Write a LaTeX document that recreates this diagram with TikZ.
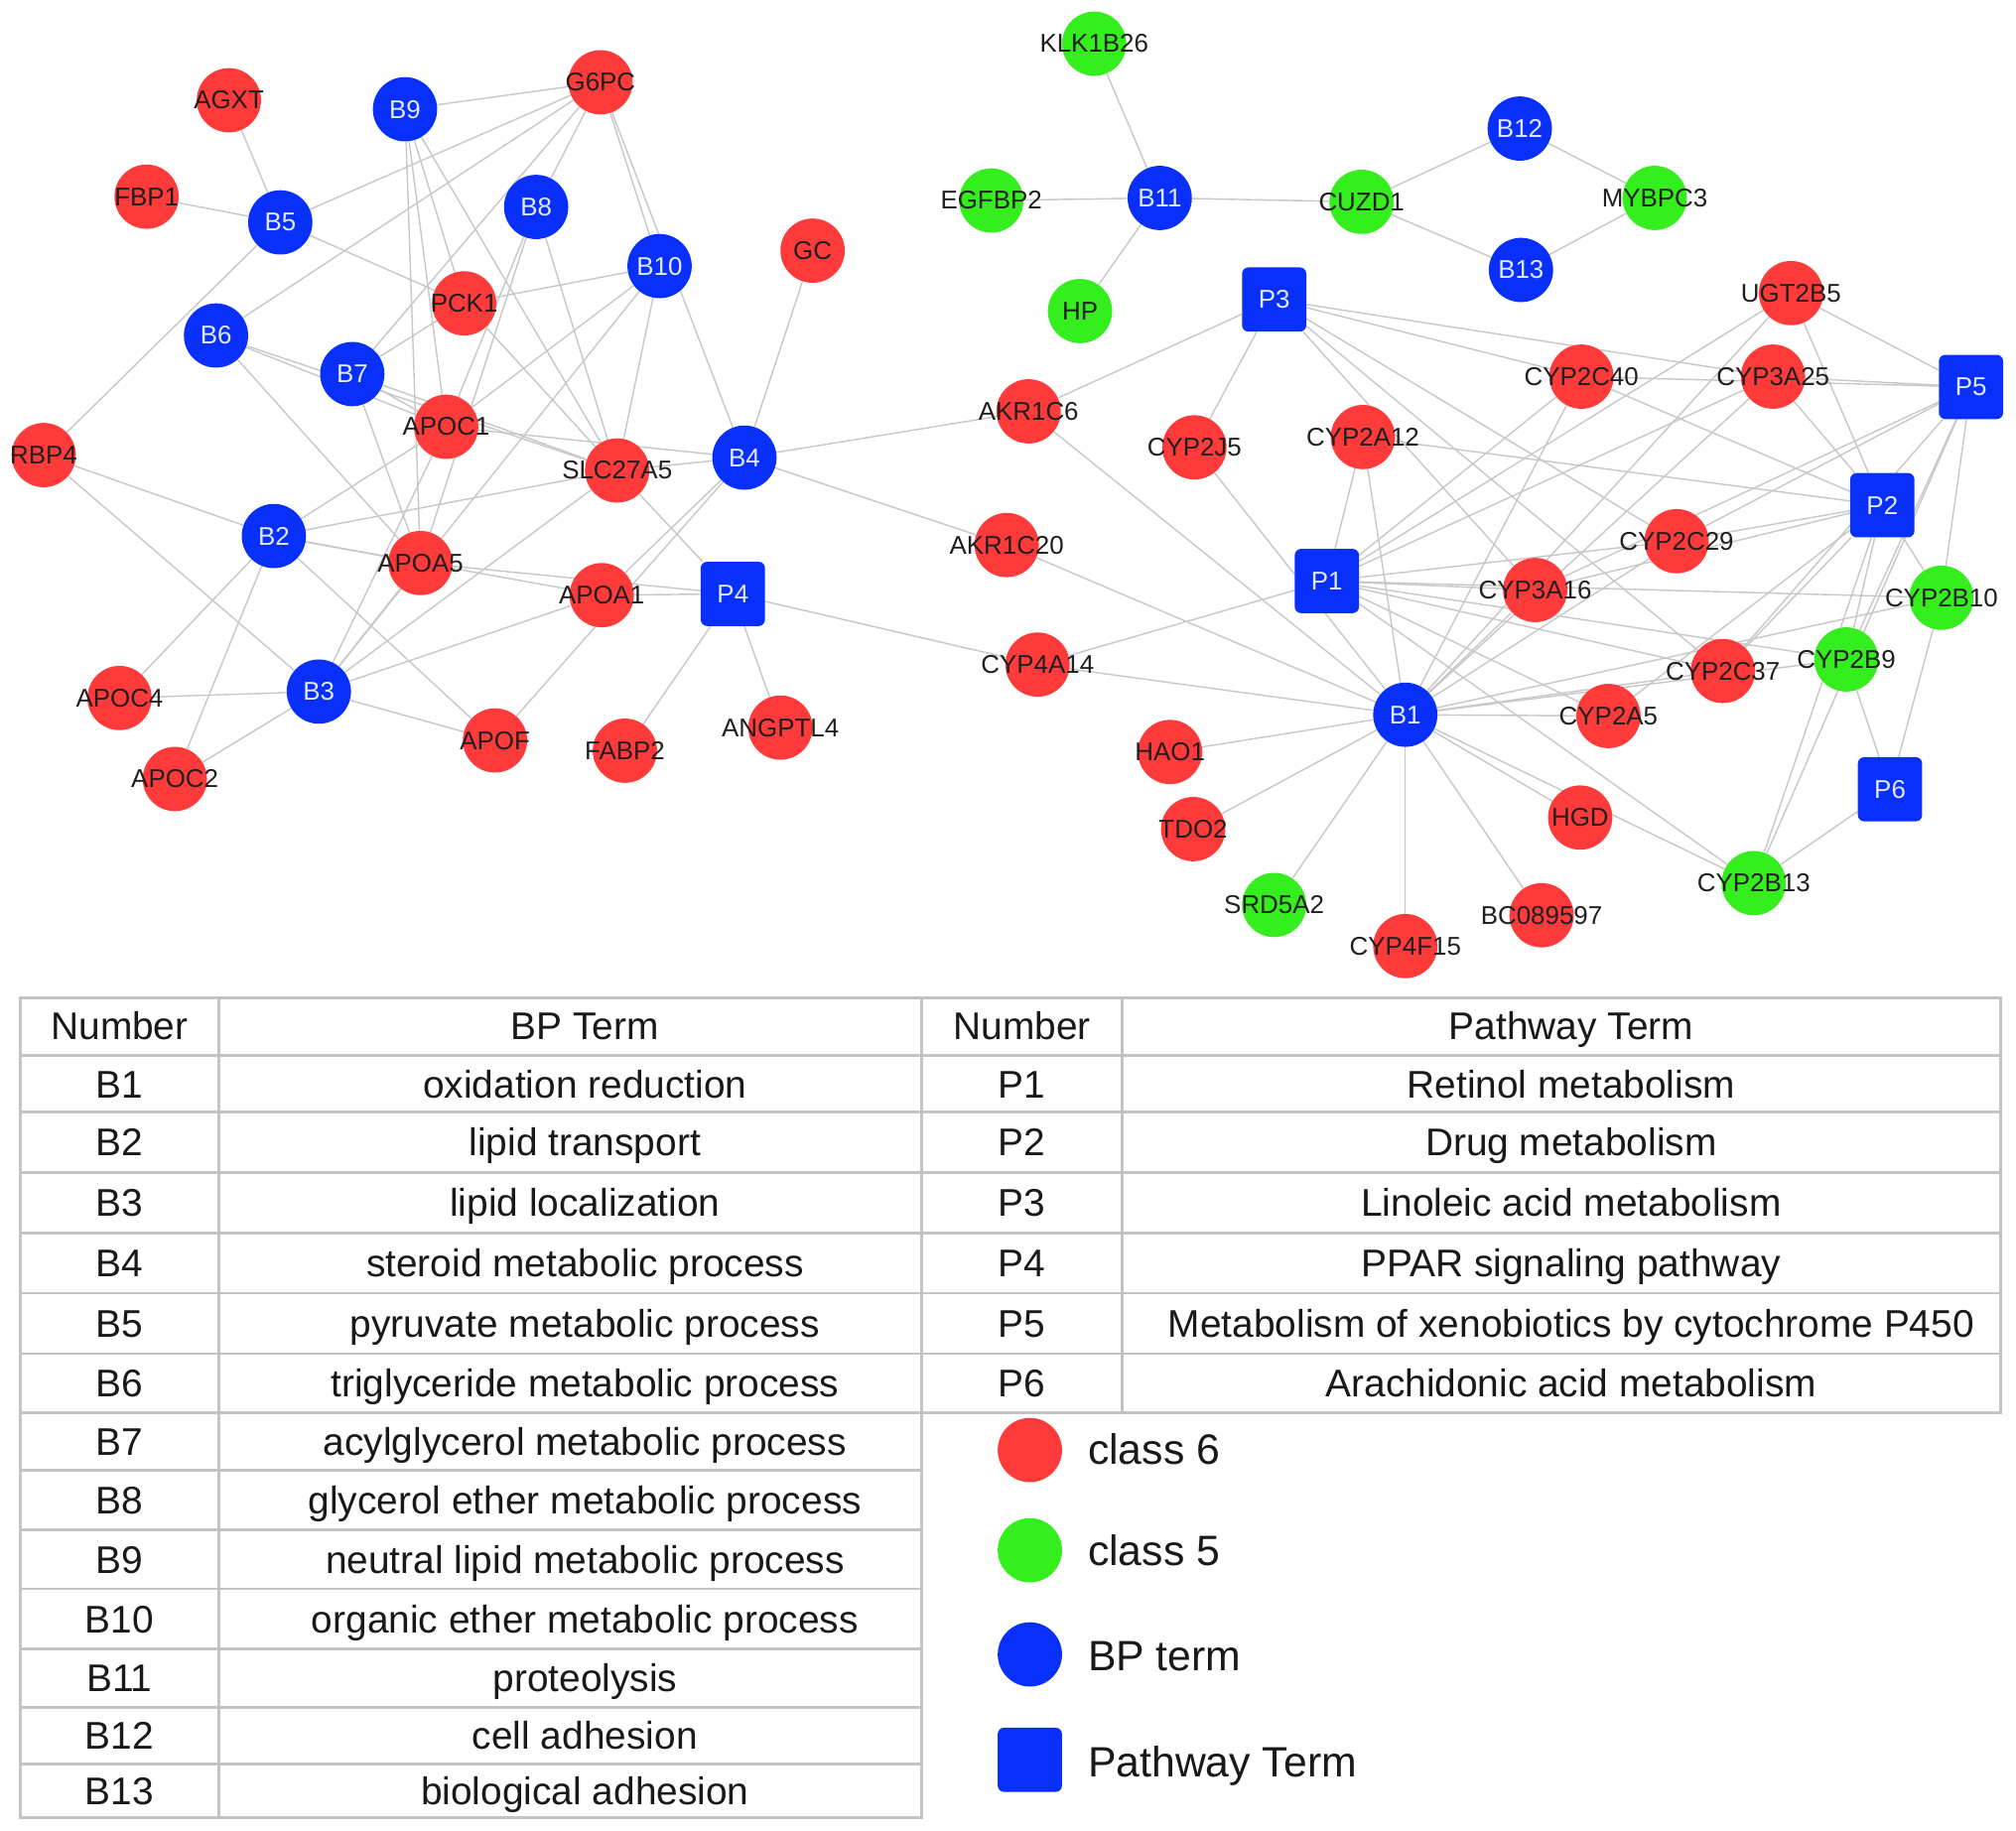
\documentclass[tikz,border=0pt]{standalone}
\usepackage{fontspec}
\setmainfont{Liberation Sans}
\pgfdeclarelayer{bgfill}
\pgfdeclarelayer{edges}
\pgfsetlayers{bgfill,edges,main}
\definecolor{cRed}{RGB}{255,58,58}
\definecolor{cGreen}{RGB}{52,238,30}
\definecolor{cBlue}{RGB}{8,48,250}
\definecolor{cLight}{RGB}{225,232,255}
\definecolor{edgegray}{RGB}{200,200,200}
\definecolor{tabgray}{RGB}{195,195,195}
\newcommand\lblfont{\fontsize{20}{24}\selectfont}
\newcommand\tabfont{\fontsize{30}{36}\selectfont}
\newcommand\legfont{\fontsize{33}{40}\selectfont}
\tikzset{
  edge/.style={draw=edgegray, line width=1.1pt},
  gnode/.style={circle, minimum size=50pt, inner sep=0pt, draw=none},
  cls6/.style={gnode, fill=cRed},
  cls5/.style={gnode, fill=cGreen},
  bp/.style={gnode, fill=cBlue, text=cLight, font=\lblfont},
  pw/.style={rectangle, rounded corners=5pt, minimum size=50pt, inner sep=0pt, fill=cBlue, text=cLight, font=\lblfont},
  lab/.style={font=\lblfont, text=black!88, inner sep=0pt},
  tabline/.style={draw=tabgray, line width=2.2pt, line cap=rect},
  tab/.style={font=\tabfont, text=black!90, anchor=base, inner sep=0pt},
  leg/.style={font=\legfont, text=black!90, anchor=base west, inner sep=0pt}
}
\begin{document}
\begin{tikzpicture}[x=1pt,y=-1pt]
\useasboundingbox (0,0) rectangle (1568,1424);
\begin{pgfonlayer}{bgfill}
\fill[white] (0,0) rectangle (1568,1424);
\end{pgfonlayer}

% ---------- class 6 genes (red)
\foreach \n/\x/\y in {AGXT/178/78, G6PC/467/64, FBP1/114/153, GC/632/195, PCK1/361/236,
  APOC1/347/332, RBP4/34/354, SLC27A5/480/366, APOA5/327/438, APOA1/468/463,
  APOC4/93/543, APOF/385/576, FABP2/486/584, ANGPTL4/607/566, APOC2/136/606,
  UGT2B5/1393/228, CYP2C40/1230/293, CYP3A25/1379/293, AKR1C6/800/320,
  CYP2J5/929/348, CYP2A12/1060/340, AKR1C20/783/424, CYP2C29/1304/421,
  CYP3A16/1194/459, CYP2C37/1340/522, CYP4A14/807/517, CYP2A5/1251/557,
  HAO1/910/585, TDO2/928/645, HGD/1229/636, BC089597/1199/712, CYP4F15/1093/736}
  \node[cls6, label={[lab]center:\n}] (\n) at (\x,\y) {};

% ---------- class 5 genes (green)
\foreach \n/\x/\y in {KLK1B26/851/34, EGFBP2/771/156, CUZD1/1059/157, MYBPC3/1287/154,
  HP/840/242, CYP2B10/1510/465, CYP2B9/1436/513, CYP2B13/1364/687, SRD5A2/991/704}
  \node[cls5, label={[lab]center:\n}] (\n) at (\x,\y) {};

% ---------- BP terms
\foreach \n/\x/\y in {B9/315/85, B5/218/173, B8/417/161, B10/513/207, B6/168/261,
  B7/274/291, B4/579/356, B2/213/417, B3/248/538, B12/1182/100, B11/902/154,
  B13/1183/210, B1/1093/556}
  \node[bp] (\n) at (\x,\y) {\n};

% ---------- pathway terms
\foreach \n/\x/\y in {P4/570/462, P3/991/233, P5/1533/301, P2/1464/393, P1/1032/452, P6/1470/614}
  \node[pw] (\n) at (\x,\y) {\n};

% ---------- connectors
\begin{pgfonlayer}{edges}
\foreach \a/\b in {B9/G6PC, AGXT/B5, FBP1/B5, B5/G6PC, B5/PCK1, B5/RBP4, B6/G6PC, B7/G6PC,
  B8/G6PC, B10/G6PC, B4/G6PC, B9/PCK1, B9/APOC1, B9/APOA5, B9/SLC27A5,
  B8/APOC1, B8/APOA5, B8/SLC27A5, B10/PCK1, B10/APOC1, B10/SLC27A5, B10/B3,
  B7/PCK1, B6/APOC1, B6/SLC27A5, B7/APOC1, B7/SLC27A5, B6/APOA5, B7/APOA5,
  B2/RBP4, B3/RBP4, B2/APOC4, B2/APOC2, B2/APOF, B2/APOA5, B2/APOA1, B2/SLC27A5, B2/APOC1,
  B3/APOC4, B3/APOC2, B3/APOF, B3/APOA1, B3/APOA5, B3/APOC1, B3/SLC27A5,
  P4/APOA5, P4/APOA1, P4/SLC27A5, P4/FABP2, P4/ANGPTL4, P4/CYP4A14,
  B4/APOF, B4/APOA1, B4/SLC27A5, B4/APOC1, B4/GC, B4/AKR1C6, B4/AKR1C20, PCK1/SLC27A5,
  KLK1B26/B11, EGFBP2/B11, HP/B11, CUZD1/B11, CUZD1/B12, CUZD1/B13, MYBPC3/B12, MYBPC3/B13,
  P3/AKR1C6, P3/CYP2J5, P3/CYP2C40, P3/CYP3A25, P3/CYP2C29, P3/CYP3A16, P3/CYP2C37,
  P1/CYP2A12, P1/CYP4A14, P1/CYP2C40, P1/UGT2B5, P1/CYP3A25, P1/CYP2C29, P1/CYP3A16,
  P1/CYP2B10, P1/CYP2C37, P1/CYP2B9, P1/CYP2A5, P1/CYP2B13,
  B1/AKR1C6, B1/AKR1C20, B1/CYP4A14, B1/CYP2J5, B1/CYP2A12, B1/HAO1, B1/TDO2, B1/SRD5A2,
  B1/CYP4F15, B1/BC089597, B1/HGD, B1/CYP2B13, B1/CYP2A5, B1/CYP2C37, B1/CYP2B9,
  B1/CYP2B10, B1/CYP3A16, B1/CYP2C29, B1/CYP2C40, B1/CYP3A25, B1/UGT2B5,
  P2/UGT2B5, P2/CYP3A25, P2/CYP2C40, P2/CYP2A12, P2/CYP2C29, P2/CYP3A16, P2/CYP2C37,
  P2/CYP2B9, P2/CYP2B10, P2/CYP2B13, P2/CYP2A5,
  P5/UGT2B5, P5/CYP3A25, P5/CYP2C40, P5/CYP2C29, P5/CYP3A16, P5/CYP2B10, P5/CYP2B9,
  P5/CYP2B13, P5/CYP2C37,
  P6/CYP2B9, P6/CYP2B10, P6/CYP2B13}
  \draw[edge] (\a) -- (\b);
\end{pgfonlayer}

% ---------- table grid
\draw[tabline] (16,776) -- (1556,776);
\foreach \y in {821,865,912,959,1006,1053,1099}
  \draw[tabline] (16,\y) -- (1556,\y);
\foreach \y in {1144,1190,1236,1283,1328,1372,1414}
  \draw[tabline] (16,\y) -- (717,\y);
\draw[tabline] (16,776) -- (16,1414);
\draw[tabline] (170,776) -- (170,1414);
\draw[tabline] (717,776) -- (717,1414);
\draw[tabline] (873,776) -- (873,1099);
\draw[tabline] (1556,776) -- (1556,1099);

% ---------- table text
\node[tab] (hN1) at (93,809) {Number};
\node[tab] (hBP) at (455,809) {BP Term};
\node[tab] (hN2) at (795,809) {Number};
\node[tab] (hPW) at (1222,809) {Pathway Term};
\foreach \n/\t/\y [count=\i] in {B1/oxidation reduction/854, B2/lipid transport/899,
  B3/lipid localization/946, B4/steroid metabolic process/993,
  B5/pyruvate metabolic process/1040, B6/triglyceride metabolic process/1087,
  B7/acylglycerol metabolic process/1132, B8/glycerol ether metabolic process/1178,
  B9/neutral lipid metabolic process/1224, B10/organic ether metabolic process/1270,
  B11/proteolysis/1316, B12/cell adhesion/1361, B13/biological adhesion/1404}
{
  \node[tab] (tn\i) at (93,\y) {\n};
  \node[tab] (tt\i) at (455,\y) {\t};
}
\foreach \n/\t/\y [count=\i] in {P1/Retinol metabolism/854, P2/Drug metabolism/899,
  P3/Linoleic acid metabolism/946, P4/PPAR signaling pathway/993,
  P5/Metabolism of xenobiotics by cytochrome P450/1040, P6/Arachidonic acid metabolism/1087}
{
  \node[tab] (pn\i) at (795,\y) {\n};
  \node[tab] (pt\i) at (1222,\y) {\t};
}

% ---------- legend
\node[gnode, fill=cRed] (lg6) at (801,1128) {};
\node[gnode, fill=cGreen] (lg5) at (801,1206) {};
\node[gnode, fill=cBlue] (lgb) at (801,1287) {};
\node[rectangle, rounded corners=5pt, minimum size=50pt, fill=cBlue] (lgp) at (801,1369) {};
\node[leg] (lt6) at (846,1139) {class 6};
\node[leg] (lt5) at (846,1218) {class 5};
\node[leg] (ltb) at (846,1300) {BP term};
\node[leg] (ltp) at (846,1382) {Pathway Term};
\end{tikzpicture}
\end{document}
